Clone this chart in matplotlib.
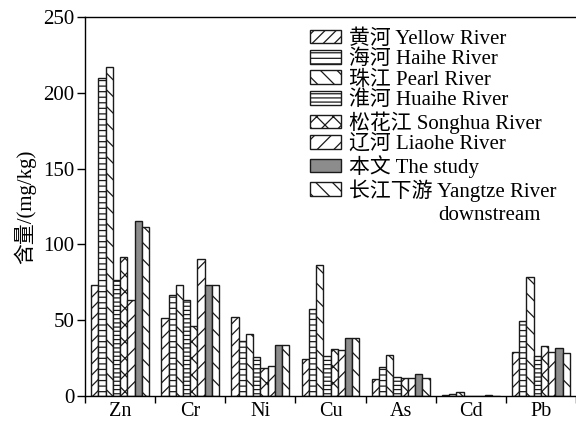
import numpy as np
import matplotlib
import matplotlib.pyplot as plt

matplotlib.use('Agg')

plt.rcParams['font.family'] = ['Liberation Serif', 'Noto Sans CJK SC']
plt.rcParams['hatch.linewidth'] = 0.9

elements = ["Zn", "Cr", "Ni", "Cu", "As", "Cd", "Pb"]

yellow = [73, 51.7, 51.8, 24.7, 11.0, 0.4, 29.3]
haihe = [210, 66.5, 36.5, 57.7, 18.9, 1.2, 49.3]
pearl = [217, 73.5, 41.0, 86.3, 26.9, 2.8, 78.6]
huaihe = [76.4, 63.6, 26.0, 26.4, 12.8, 0.1, 26.4]
songhua = [91.8, 46.4, 18.3, 30.8, 12.1, 0.1, 33.0]
liaohe = [63.6, 90.3, 19.6, 30.2, 12.1, 0.1, 29.3]
study = [115.6, 73.5, 33.9, 38.1, 14.3, 0.7, 31.5]
yangtze = [111.6, 73.5, 33.9, 38.5, 11.9, 0.1, 28.6]

labels = ["黄河 Yellow River", "海河 Haihe River", "珠江 Pearl River",
          "淮河 Huaihe River", "松花江 Songhua River", "辽河 Liaohe River",
          "本文 The study", "长江下游 Yangtze River"]
series = [yellow, haihe, pearl, huaihe, songhua, liaohe, study, yangtze]
hatches = ['///', '---', '\\\\', '----', 'xx', '//', None, '\\\\']

fig = plt.figure(figsize=(5.76, 4.21), dpi=100)
ax = fig.add_axes([0.1476, 0.0594, 0.8524, 0.9002])

x = np.arange(len(elements))
w = 0.103
for i, (vals, lab, h) in enumerate(zip(series, labels, hatches)):
    fc = '#8c8c8c' if h is None else 'white'
    ax.bar(x + (i - 3.5) * w, vals, w, facecolor=fc, edgecolor='#1a1a1a',
           hatch=h, linewidth=1.0, label=lab)

ax.set_xlim(-0.5, len(elements) - 0.5)
ax.set_ylim(0, 250)
ax.set_yticks([0, 50, 100, 150, 200, 250])
ax.set_xticks(x)
ax.set_xticklabels(elements)
ax.set_xticks(np.arange(-0.5, len(elements)), minor=True)
ax.tick_params(axis='x', which='major', length=0, pad=4, labelsize=14.5)
ax.tick_params(axis='x', which='minor', length=5, direction='out', width=1)
ax.tick_params(axis='y', length=6, direction='out', width=1, labelsize=15,
               pad=1.5)
ax.spines['right'].set_visible(False)
for s in ['left', 'top', 'bottom']:
    ax.spines[s].set_linewidth(1.0)

ax.set_ylabel("含量/(mg/kg)", fontsize=15, labelpad=5)

ax.legend(loc='upper left', bbox_to_anchor=(0.442, 0.99), frameon=False,
          fontsize=15, handlelength=1.45, handleheight=0.62,
          handletextpad=0.4, labelspacing=0.05, borderaxespad=0)
# second line of the last legend entry
ax.text(0.719, 0.476, "downstream", transform=ax.transAxes, fontsize=15,
        ha='left', va='center')

fig.savefig("out.png", dpi=100)
